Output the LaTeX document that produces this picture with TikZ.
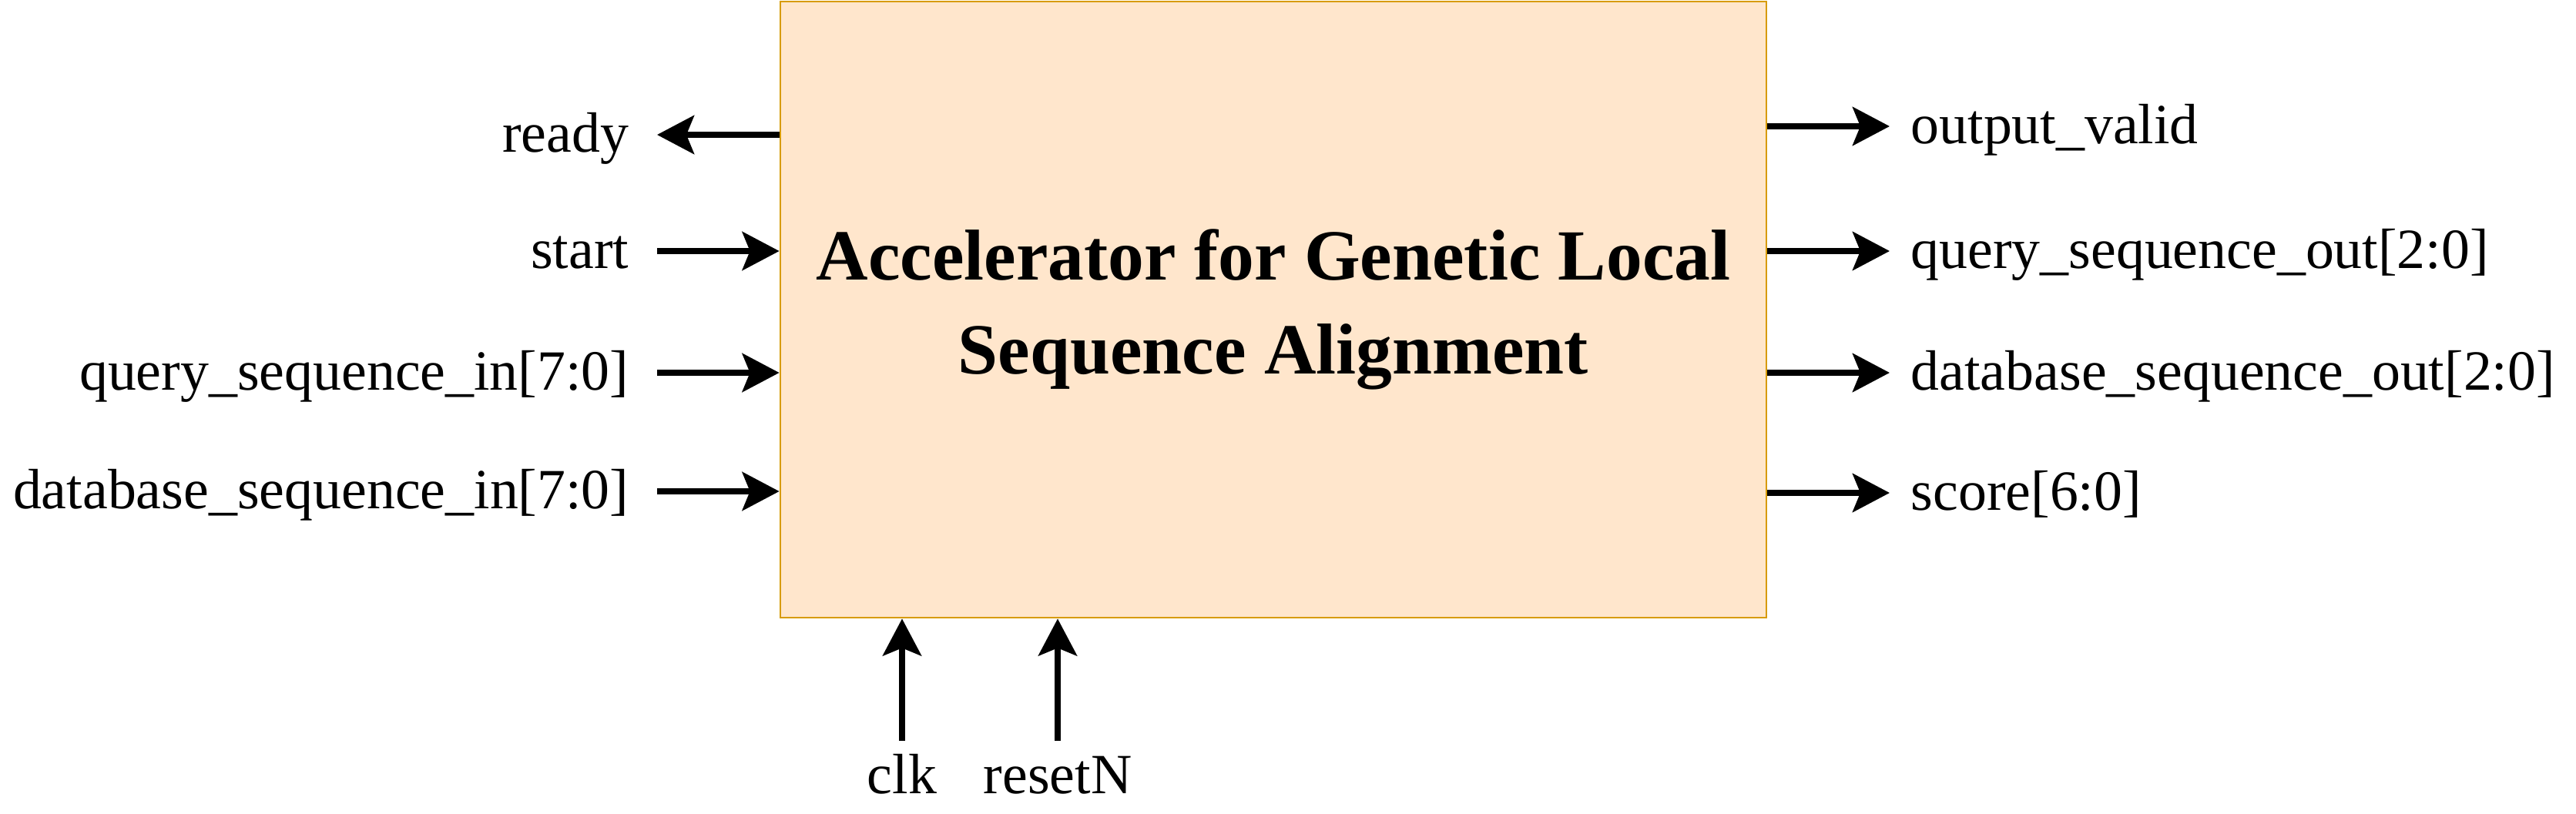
\documentclass[tikz,border=0pt]{standalone}
\usepackage{fontspec}
\setmainfont{Liberation Serif}
\usetikzlibrary{arrows.meta,positioning}
\definecolor{accfill}{HTML}{FFE6CC}
\definecolor{accdraw}{HTML}{D79B00}

\begin{document}
\begin{tikzpicture}[
   lbl/.style={inner sep=0pt, font=\fontsize{21}{25}\selectfont, text height=17.4pt, text depth=4.6pt},
   sig/.style={line width=2.2pt, -{Stealth[length=0.48cm,width=0.5cm,inset=0.1cm]}},
   block/.style={draw=accdraw, fill=accfill, line width=0.8pt, minimum width=12.8cm, minimum height=8cm,
      align=center, font=\bfseries\fontsize{26.6}{34.6}\selectfont}
]

   \useasboundingbox (0,0) rectangle (33.44,-10.56);

   \node[block] (acc) at (16.53,-4.02) {Accelerator for Genetic Local\\Sequence Alignment};

   % left side
   \coordinate (p-ready) at (8.53,-1.75);
   \coordinate (p-start) at (8.53,-3.26);
   \coordinate (p-qin) at (8.53,-4.84);
   \coordinate (p-dbin) at (8.53,-6.38);
   \node[lbl, left=0.36cm of p-ready] (ready) {ready};
   \node[lbl, left=0.36cm of p-start] (start) {start};
   \node[lbl, left=0.36cm of p-qin] (qin) {query\_sequence\_in[7:0]};
   \node[lbl, left=0.36cm of p-dbin] (dbin) {database\_sequence\_in[7:0]};
   \draw[sig] (acc.west |- p-ready) -- (p-ready);
   \draw[sig] (p-start) -- (acc.west |- p-start);
   \draw[sig] (p-qin) -- (acc.west |- p-qin);
   \draw[sig] (p-dbin) -- (acc.west |- p-dbin);

   % right side
   \coordinate (p-valid) at (24.53,-1.64);
   \coordinate (p-qout) at (24.53,-3.26);
   \coordinate (p-dbout) at (24.53,-4.84);
   \coordinate (p-score) at (24.53,-6.40);
   \node[lbl, right=0.27cm of p-valid] (valid) {output\_valid};
   \node[lbl, right=0.27cm of p-qout] (qout) {query\_sequence\_out[2:0]};
   \node[lbl, right=0.27cm of p-dbout] (dbout) {database\_sequence\_out[2:0]};
   \node[lbl, right=0.27cm of p-score] (score) {score[6:0]};
   \draw[sig] (acc.east |- p-valid) -- (p-valid);
   \draw[sig] (acc.east |- p-qout) -- (p-qout);
   \draw[sig] (acc.east |- p-dbout) -- (p-dbout);
   \draw[sig] (acc.east |- p-score) -- (p-score);

   % bottom
   \coordinate (p-clk) at (11.71,-9.62);
   \coordinate (p-rst) at (13.73,-9.62);
   \node[lbl, below=0.07cm of p-clk] (clk) {clk};
   \node[lbl, below=0.07cm of p-rst] (rst) {resetN};
   \draw[sig] (p-clk) -- (p-clk |- acc.south);
   \draw[sig] (p-rst) -- (p-rst |- acc.south);

\end{tikzpicture}
\end{document}
